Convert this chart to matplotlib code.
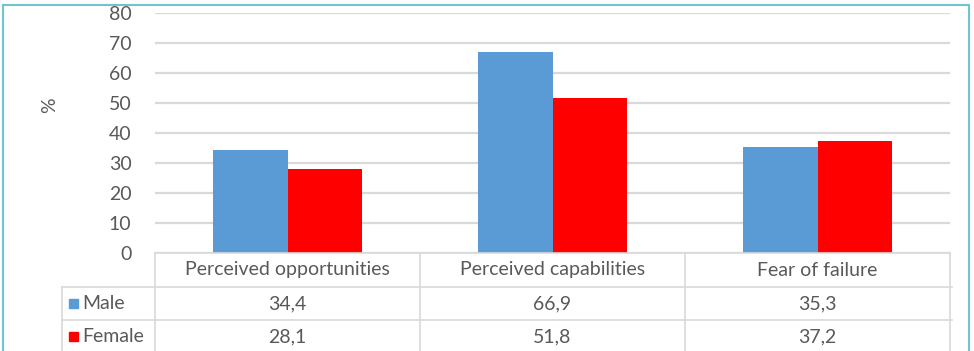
import matplotlib
matplotlib.use("Agg")
import matplotlib.pyplot as plt
from matplotlib.lines import Line2D
from matplotlib.patches import Rectangle
from matplotlib.transforms import blended_transform_factory
import numpy as np

categories = ["Perceived opportunities", "Perceived capabilities", "Fear of failure"]
series_names = ["Male", "Female"]
male = [34.4, 66.9, 35.3]
female = [28.1, 51.8, 37.2]
colors = ["#5b9bd5", "#ff0000"]
yticks = [0, 10, 20, 30, 40, 50, 60, 70, 80]

W, H = 974, 351
fig = plt.figure(figsize=(W / 100, H / 100), dpi=100)
plt.rcParams["font.family"] = ["Lato", "DejaVu Sans"]
text_color = "#595959"
grid_color = "#d9d9d9"
fs = 14


def fx(px):
    return px / W


def fy(py):
    return 1 - py / H


# plot area: y=0 at 253 px, y=80 at 13 px
left, right, top, bottom = 155, 950, 13, 253
ax = fig.add_axes([fx(left), fy(bottom), fx(right - left), (bottom - top) / H])
ax.set_xlim(-0.5, len(categories) - 0.5)
ax.set_ylim(0, 80)

x = np.arange(len(categories))
bw = 0.283
ax.bar(x - bw / 2, male, width=bw, color=colors[0], zorder=3)
ax.bar(x + bw / 2, female, width=bw, color=colors[1], zorder=3)

ax.set_yticks(yticks)
ax.set_yticklabels([str(t) for t in yticks], color=text_color, fontsize=fs)
ax.tick_params(axis="y", length=0, pad=17)
ax.set_xticks([])
ax.grid(axis="y", color=grid_color, linewidth=1.6, zorder=0)
for s in ax.spines.values():
    s.set_visible(False)

fig.text(fx(50), fy(105), "%", rotation=90, ha="center", va="center",
         color=text_color, fontsize=fs)

# data table below the plot
tr = blended_transform_factory(ax.transData, fig.transFigure)
row_y = [253, 287, 320, 353]
col_edges = [-0.5, 0.5, 1.5, 2.5]
line_kw = dict(color=grid_color, linewidth=1.2)

fig.add_artist(Line2D([-0.5, 2.5], [fy(253)] * 2, transform=tr, **line_kw))
for yy in row_y[1:3]:
    fig.add_artist(Line2D([fx(62), fx(952)], [fy(yy)] * 2, **line_kw))
for xe in col_edges:
    fig.add_artist(Line2D([xe, xe], [fy(253), fy(353)], transform=tr, **line_kw))
fig.add_artist(Line2D([fx(62), fx(62)], [fy(287), fy(353)], **line_kw))

for i, c in enumerate(categories):
    fig.text(i, fy(270), c, transform=tr, ha="center", va="center",
             color=text_color, fontsize=fs)

for r, (name, vals) in enumerate(zip(series_names, [male, female])):
    yc = (row_y[r + 1] + row_y[r + 2]) / 2
    fig.add_artist(Rectangle((fx(69), fy(yc + 4.5)), fx(9), 9 / H,
                             color=colors[r], transform=fig.transFigure))
    fig.text(fx(82), fy(yc), name, ha="left", va="center",
             color=text_color, fontsize=fs)
    for i, v in enumerate(vals):
        fig.text(i, fy(yc), f"{v:.1f}".replace(".", ","), transform=tr,
                 ha="center", va="center", color=text_color, fontsize=fs)

# outer frame
frame_color = "#6cc5d0"
fig.add_artist(Line2D([fx(3), fx(969)], [fy(5), fy(5)], color=frame_color, linewidth=1.5))
fig.add_artist(Line2D([fx(3), fx(3)], [fy(5), 0], color=frame_color, linewidth=1.5))
fig.add_artist(Line2D([fx(969), fx(969)], [fy(5), 0], color=frame_color, linewidth=1.5))

fig.savefig("out.png", dpi=100)
